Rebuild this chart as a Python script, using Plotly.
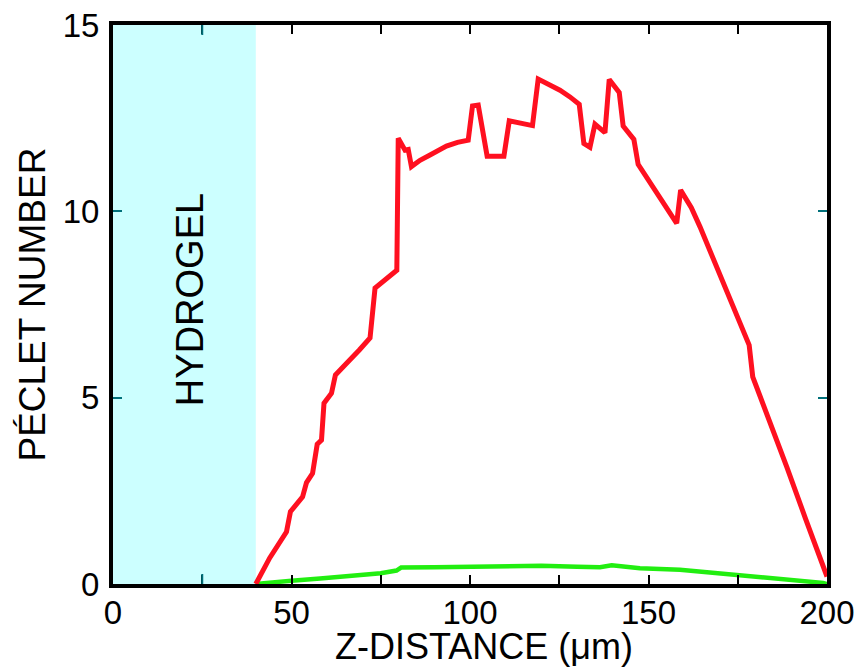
import plotly.graph_objects as go

# Red: Péclet number (upper curve)
red_z = [40, 43.9, 48.6, 49.7, 53.1, 54.2, 55.9, 57.2, 58.4, 59.1, 61.2, 62.3, 64.5, 66.4, 69.0, 72.0,
         73.4, 79.5, 79.9, 81.8, 82.7, 83.6, 86.0, 88.8, 91.0, 93.4, 96.5, 99.5, 100.7, 102.3, 104.8,
         109.5, 111.0, 117.5, 119.1, 122.0, 125.2, 128.0, 130.6, 131.9, 133.6, 135.0, 137.8, 139.0,
         141.8, 142.9, 145.9, 147.1, 150.0, 153.2, 157.9, 159.0, 162.0, 164.4, 167.5, 170.9, 174.5,
         178.2, 179.2, 184.0, 188.7, 194.0, 200]
red_pe = [0.0, 0.7, 1.4, 1.94, 2.34, 2.72, 2.97, 3.75, 3.86, 4.85, 5.12, 5.61, 5.83, 6.01, 6.28, 6.6,
          7.94, 8.42, 11.96, 11.64, 11.66, 11.2, 11.37, 11.51, 11.63, 11.75, 11.85, 11.91, 12.83, 12.85,
          11.48, 11.48, 12.43, 12.30, 13.55, 13.42, 13.25, 13.07, 12.87, 11.82, 11.72, 12.34, 12.11,
          13.54, 13.19, 12.29, 11.93, 11.26, 10.85, 10.39, 9.68, 10.57, 10.1, 9.59, 8.87, 8.07, 7.27,
          6.41, 5.56, 4.37, 3.15, 1.75, 0.2]

# Green: lower curve
green_z = [40, 45, 50, 58, 67, 75, 79.4, 80.7, 90, 100, 110, 120, 130, 136.4, 139.7, 147.6, 158.8,
           167, 175.6, 187.7, 198.9, 200]
green_pe = [0.0, 0.03, 0.09, 0.15, 0.22, 0.29, 0.36, 0.44, 0.45, 0.46, 0.47, 0.49, 0.46, 0.45, 0.5,
            0.42, 0.38, 0.31, 0.24, 0.12, 0.03, 0.0]

x_ticks = [0, 50, 100, 150, 200]
y_ticks = [0, 5, 10, 15]
hydrogel_range = [0, 40]

FONT = "Liberation Sans, Arial, Helvetica, sans-serif"
TEAL = "#00707a"

fig = go.Figure()
fig.add_trace(go.Scatter(x=green_z, y=green_pe, mode="lines",
                         line=dict(color="#22ee11", width=4.5), showlegend=False))
fig.add_trace(go.Scatter(x=red_z, y=red_pe, mode="lines",
                         line=dict(color="#ff1020", width=5), showlegend=False))

fig.add_shape(type="rect", xref="x", yref="y", x0=hydrogel_range[0], x1=hydrogel_range[1],
              y0=0, y1=15, fillcolor="#ccffff", line=dict(width=0), layer="below")

# teal tick marks inside hydrogel region (top & bottom at x=25)
for yanc, (a, b) in [(0, (0, 10)), (15, (0, -10))]:
    fig.add_shape(type="line", xref="x", yref="y", x0=25, x1=25, ysizemode="pixel",
                  yanchor=yanc, y0=a, y1=b, line=dict(color=TEAL, width=2), layer="above")

fig.add_annotation(x=21.6, y=7.62, xref="x", yref="y", text="HYDROGEL", textangle=-90,
                   showarrow=False, font=dict(family=FONT, size=38, color="black"))
fig.add_annotation(x=0.519, y=-0.111, xref="paper", yref="paper", text="Z-DISTANCE (μm)",
                   showarrow=False, yanchor="middle",
                   font=dict(family=FONT, size=36, color="black"))
fig.add_annotation(x=-0.1134, y=0.50, xref="paper", yref="paper", text="PÉCLET NUMBER",
                   textangle=-90, showarrow=False, xanchor="center",
                   font=dict(family=FONT, size=37, color="black"))

fig.update_xaxes(range=[0, 200], tickvals=x_ticks, ticktext=[str(v) for v in x_ticks],
                 minor=dict(tickvals=[25, 75, 125, 175], ticks="inside", ticklen=9,
                            tickcolor="black", tickwidth=2),
                 ticks="inside", ticklen=9, tickwidth=2, tickcolor="black",
                 showline=True, linewidth=4, linecolor="black", mirror="allticks",
                 showgrid=False, zeroline=False, ticklabelstandoff=-4, automargin=False,
                 ticklabeloverflow="allow",
                 tickfont=dict(family=FONT, size=33, color="black"))
fig.update_yaxes(range=[0, 15], tickvals=y_ticks, ticktext=[str(v) for v in y_ticks],
                 ticks="inside", ticklen=9, tickwidth=2, tickcolor=TEAL,
                 showline=True, linewidth=4, linecolor="black", mirror="allticks",
                 showgrid=False, zeroline=False, ticklabelstandoff=3, automargin=False,
                 ticklabeloverflow="allow",
                 tickfont=dict(family=FONT, size=33, color="black"))

# page body has an 8px margin: shrink the figure so the plot lands where the reference has it
fig.update_layout(width=857, height=664, margin=dict(l=105, r=38, t=17, b=88, autoexpand=False),
                  plot_bgcolor="white", paper_bgcolor="white", showlegend=False)

fig.write_html("out.html")
